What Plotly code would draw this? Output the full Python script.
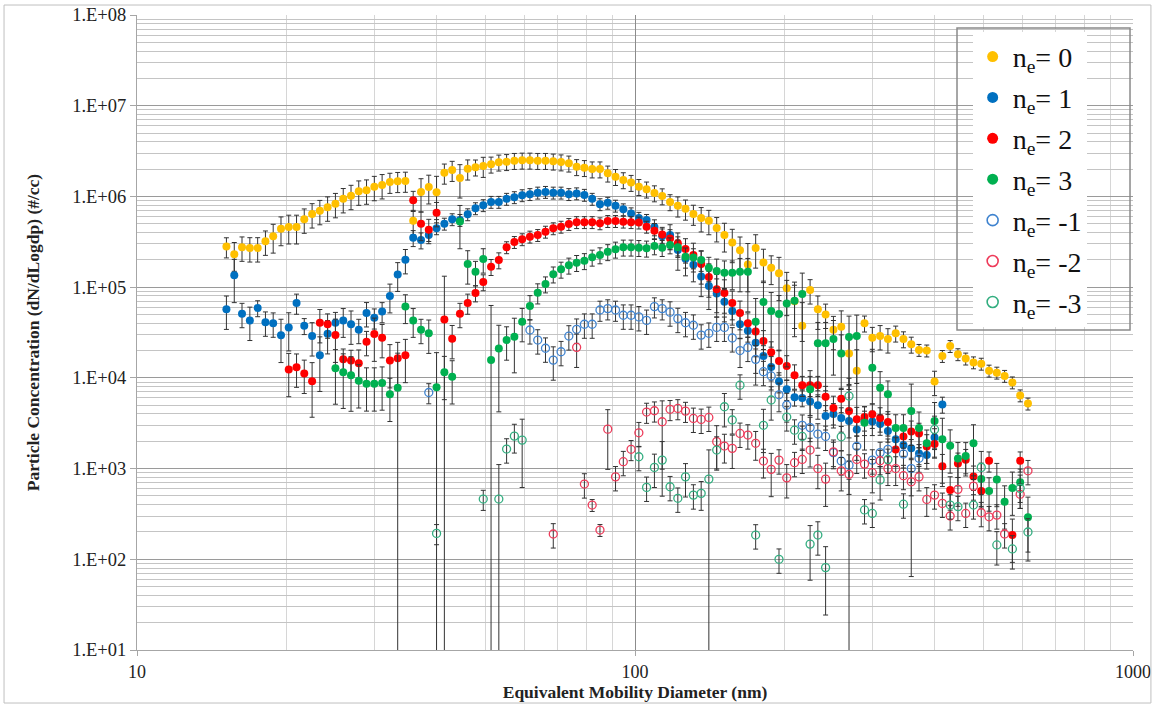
import plotly.graph_objects as go

# Mobility diameter bins (nm)
diam = [15.12, 15.68, 16.25, 16.85, 17.47, 18.11, 18.77, 19.46, 20.17, 20.91,
        21.67, 22.47, 23.29, 24.14, 25.03, 25.95, 26.90, 27.88, 28.90, 29.96,
        31.06, 32.20, 33.38, 34.59, 35.86, 37.18, 38.54, 39.95, 41.42, 42.94,
        44.51, 46.14, 47.83, 49.58, 51.40, 53.28, 55.23, 57.25, 59.35, 61.52,
        63.78, 66.11, 68.53, 71.04, 73.65, 76.35, 79.14, 82.04, 85.05, 88.16,
        91.39, 94.74, 98.21, 101.8, 105.5, 109.4, 113.4, 117.6, 121.9, 126.3,
        131.0, 135.8, 140.7, 145.9, 151.2, 156.8, 162.5, 168.5, 174.7, 181.1,
        187.7, 194.6, 201.7, 209.1, 216.7, 224.7, 232.9, 241.4, 250.3, 259.5,
        269.0, 278.8, 289.0, 299.6, 310.6, 322.0, 333.8, 346.0, 358.7, 371.8,
        385.4, 399.5, 414.2, 429.4, 445.1, 461.4, 478.3, 495.8, 514.0, 532.8,
        552.3, 572.5, 593.5, 615.3]

N = None

ne0 = [2.8e5, 2.3e5, 2.75e5, 2.7e5, 2.7e5, 3.2e5, 3.65e5, 4.4e5, 4.6e5, 4.6e5,
       5.6e5, 6.4e5, 6.95e5, 7.6e5, 8.3e5, 9.4e5, 1.02e6, 1.14e6, 1.17e6, 1.28e6,
       1.34e6, 1.44e6, 1.47e6, 1.48e6, 5.4e5, 1.12e6, 1.27e6, 1.11e6, 1.82e6, 1.95e6,
       1.6e6, 2.02e6, 2.1e6, 2.16e6, 2.26e6, 2.38e6, 2.41e6, 2.48e6, 2.5e6, 2.5e6,
       2.48e6, 2.48e6, 2.44e6, 2.39e6, 2.32e6, 2.12e6, 2.07e6, 2.0e6, 2.0e6, 1.8e6,
       1.65e6, 1.52e6, 1.42e6, 1.28e6, 1.2e6, 1.09e6, 1.01e6, 8.7e5, 7.9e5, 7.3e5,
       6.4e5, 5.8e5, 5.4e5, 4.5e5, 3.75e5, 3.1e5, 2.55e5, 1.78e5, 2.7e5, 1.87e5,
       1.64e5, 1.42e5, 9.7e4, 7.0e4, 3.75e4, 9.3e4, 5.7e4, 5.0e4, 3.4e4, 3.65e4,
       1.86e4, 1.2e4, 4.0e4, 2.77e4, 2.9e4, 2.68e4, 3.1e4, 2.68e4, 2.34e4, 2.03e4,
       2.0e4, 9.1e3, 1.74e4, 2.24e4, 1.82e4, 1.63e4, 1.48e4, 1.43e4, 1.2e4, 1.14e4,
       1.05e4, 8.9e3, 6.4e3, 5.2e3]
err0 = [.25, .35, .3, .3, .3, .3, .35, .35, .35, .35,
        .3, .3, .3, .3, .3, .3, .3, .3, .3, .3,
        .3, .25, .25, .25, .3, .4, .35, .5, .25, .25,
        .4, .25, .2, .25, .2, .2, .2, .2, .2, .2,
        .2, .2, .2, .2, .2, .2, .2, .2, .2, .2,
        .2, .2, .2, .2, .2, .2, .2, .2, .25, .25,
        .25, .3, .3, .3, .35, .4, .4, .7, .4, .4,
        .35, .5, .5, .5, .8, .3, .4, .3, .4, .5,
        .6, .7, .2, .3, .3, .3, .2, .2, .2, .15,
        .15, .3, .15, .15, .15, .15, .15, .15, .15, .15,
        .15, .15, .15, .15]

ne1 = [5.7e4, 1.35e5, 5.1e4, 4.3e4, 5.9e4, 4.1e4, 4.0e4, 2.95e4, 3.6e4, 6.7e4,
       3.75e4, 2.9e4, 1.77e4, 3.06e4, 4.05e4, 4.3e4, 3.9e4, 3.4e4, 5.2e4, 4.6e4,
       5.4e4, 8.0e4, 1.38e5, 2.0e5, 3.5e5, 3.3e5, 3.75e5, 4.45e5, 5.0e5, 5.6e5,
       5.5e5, 6.35e5, 7.4e5, 8.0e5, 8.7e5, 8.7e5, 9.4e5, 9.8e5, 1.03e6, 1.06e6,
       1.1e6, 1.12e6, 1.1e6, 1.1e6, 1.06e6, 1.08e6, 1.04e6, 9.4e5, 8.2e5, 8.5e5,
       7.9e5, 7.2e5, 6.5e5, 5.8e5, 5.5e5, 4.6e5, 3.65e5, 3.75e5, 2.56e5, 2.05e5,
       1.76e5, 1.31e5, 1.03e5, 8.5e4, 6.9e4, 5.45e4, 3.9e4, 3.3e4, 2.44e4, 1.74e4,
       1.32e4, 9.1e3, 7.5e3, 6.1e3, 6.0e3, 5.5e3, 5.0e3, 3.8e3, 4.0e3, 3.6e3,
       3.35e3, 2.7e3, 3.3e3, 3.3e3, 3.1e3, 2.6e3, 2.1e3, 1.82e3, 1.67e3, 1.47e3,
       1.41e3, 2.2e3, 5.1e3, N, N, N, N, N, N, N,
       N, N, N, N]
err1 = [.4, .5, .3, .4, .2, .3, .3, .5, .45, .25,
        .2, .4, .6, .4, .3, .35, .4, .3, .3, .25,
        .25, .35, .35, .3, .2, .2, .15, .15, .15, .15,
        .15, .15, .15, .15, .15, .15, .15, .15, .15, .15,
        .15, .15, .15, .15, .15, .15, .15, .15, .15, .15,
        .15, .15, .15, .15, .15, .2, .2, .3, .4, .35,
        .35, .4, .45, .45, .4, .3, .3, .25, .3, .3,
        .3, .25, .25, .2, .2, .3, .3, .3, .3, .3,
        .35, .3, .3, .3, .25, .25, .25, .25, .25, .25,
        .3, .25, .2, N, N, N, N, N, N, N,
        N, N, N, N]

ne2 = [N, N, N, N, N, N, N, N, 1.24e4, 1.31e4,
       1.12e4, 9.2e3, 4.05e4, 3.9e4, 2.96e4, 1.6e4, 1.55e4, 1.45e4, 2.5e4, 3.04e4,
       2.77e4, 1.55e4, 1.64e4, 1.77e4, 9.1e5, 5.0e5, 4.3e5, 6.6e5, 4.4e4, 2.7e4,
       5.1e4, 6.7e4, 8.6e4, 1.14e5, 1.68e5, 1.99e5, 2.75e5, 3.14e5, 3.37e5, 3.6e5,
       3.75e5, 4.08e5, 4.45e5, 4.63e5, 4.96e5, 5.2e5, 5.2e5, 5.2e5, 5.05e5, 5.35e5,
       5.35e5, 5.27e5, 5.2e5, 5.15e5, 4.63e5, 4.19e5, 3.8e5, 3.44e5, 3.04e5, 2.63e5,
       2.26e5, 1.8e5, 1.29e5, 9.5e4, 8.6e4, 6.7e4, 5.2e4, 4.0e4, 3.24e4, 2.55e4,
       1.92e4, 1.53e4, 1.35e4, 1.07e4, 8.3e3, 8.3e3, 8.3e3, 6.2e3, 4.65e3, 5.9e3,
       4.3e3, 3.5e3, 3.7e3, 3.96e3, 3.6e3, 3.26e3, 1.62e3, 2.26e3, 2.57e3, 2.43e3,
       1.75e3, 1.86e3, 1.06e3, 580, 1.14e3, 1.25e3, 820, 565, 1.22e3, N,
       N, 185, 1.22e3, N]
err2 = [N, N, N, N, N, N, N, N, .5, .4,
        .4, .6, .4, .3, .5, .3, .3, .4, .3, .5,
        .4, .5, .5, .5, .25, .35, .3, .3, 2.0, .4,
        .3, .25, .2, .2, .2, .2, .15, .15, .15, .15,
        .15, .15, .15, .15, .15, .15, .15, .15, .15, .15,
        .15, .15, .15, .15, .15, .2, .2, .25, .3, .3,
        .35, .4, .4, .45, .4, .35, .35, .3, .3, .3,
        .3, .3, .3, .3, .25, .25, .25, .3, .35, .3,
        1.3, .35, .3, .3, .3, .3, .35, .3, .3, .3,
        .35, .3, .35, .4, .3, .3, .3, .35, .25, N,
        N, .5, .25, N]

ne3 = [N, N, N, N, N, N, N, N, N, N,
       N, N, N, N, 1.28e4, 1.15e4, 1.07e4, 9.3e3, 8.6e3, 8.6e3,
       8.8e3, 6.6e3, 7.8e3, 6.1e4, 4.3e4, 3.4e4, 3.1e4, 7.9e3, 1.15e4, 1.03e4,
       5.3e5, 1.8e5, 1.48e5, 2.04e5, 1.57e4, 2.11e4, 2.61e4, 2.84e4, 4.16e4, 6.2e4,
       8.7e4, 1.08e5, 1.39e5, 1.57e5, 1.74e5, 1.86e5, 1.95e5, 2.13e5, 2.26e5, 2.45e5,
       2.61e5, 2.75e5, 2.75e5, 2.72e5, 2.68e5, 2.84e5, 2.72e5, 2.91e5, 2.76e5, 2.16e5,
       2.12e5, 1.99e5, 1.64e5, 1.51e5, 1.44e5, 1.44e5, 1.48e5, 1.48e5, 4.16e4, 6.85e4,
       5.45e4, 5.05e4, 6.6e4, 7.1e4, 8.4e4, 7.5e3, 2.4e4, 2.4e4, 2.68e4, 1.86e4,
       2.82e4, 2.89e4, 3.2e3, 1.29e4, 7.8e3, 6.6e3, 2.8e3, 2.8e3, 4.3e3, 2.8e3,
       1.9e3, 3.34e3, 2.11e3, 1.78e3, 1.29e3, 1.38e3, 1.9e3, 765, 565, 760,
       430, 610, 705, 290]
err3 = [N, N, N, N, N, N, N, N, N, N,
        N, N, N, N, .6, .6, .6, .5, .5, .5,
        .5, .5, 1.4, .35, .35, .3, .4, 1.4, .5, .5,
        .5, .4, .3, .3, 3.0, .8, .4, .6, .4, .3,
        .25, .2, .2, .2, .2, .2, .2, .2, .2, .2,
        .2, .2, .2, .2, .2, .2, .2, .2, .2, .25,
        .25, .25, .3, .35, .35, .35, .4, .4, .8, .7,
        .6, .6, .8, .6, .7, .6, .7, .7, .6, .6,
        .7, .7, .5, .6, .5, .4, .4, .4, .985, .5,
        .4, .6, .7, .5, .5, .4, .6, .5, .4, .5,
        .5, .5, .4, .67]

ne_m1 = [N, N, N, N, N, N, N, N, N, N,
         N, N, N, N, N, N, N, N, N, N,
         N, N, N, N, N, N, 6.9e3, N, N, N,
         N, N, N, N, N, N, N, N, N, 3.37e4,
         2.61e4, 2.12e4, 1.57e4, 1.94e4, 2.89e4, 3.43e4, 3.9e4, 3.9e4, 5.6e4, 5.8e4,
         5.6e4, 4.9e4, 4.9e4, 4.7e4, 4.3e4, 6.1e4, 5.8e4, 5.3e4, 4.5e4, 4.05e4,
         3.8e4, 2.96e4, 3.1e4, 3.6e4, 3.6e4, 2.75e4, 2.0e4, 2.16e4, 1.6e4, 1.17e4,
         1.05e4, 6.5e3, 5.0e3, N, 3.0e3, 2.83e3, 2.4e3, 2.26e3, 1.5e3, 1.21e3,
         1.09e3, 1.76e3, N, 1.24e3, 1.5e3, 1.63e3, N, 1.45e3, 1.0e3, 1.3e3,
         N, N, N, N, N, N, N, N, N, N,
         N, N, N, N]
err_m1 = [N, N, N, N, N, N, N, N, N, N,
          N, N, N, N, N, N, N, N, N, N,
          N, N, N, N, N, N, .25, N, N, N,
          N, N, N, N, N, N, N, N, N, .3,
          .3, .3, .4, .3, .3, .3, .3, .3, .25, .25,
          .25, .3, .3, .3, .3, .25, .25, .3, .3, .3,
          .3, .3, .3, .3, .3, .3, .35, .3, .3, .3,
          .3, .35, .35, N, .3, .3, .3, .3, .3, .3,
          .3, .3, N, .3, .3, .3, N, .3, .3, .3,
          N, N, N, N, N, N, N, N, N, N,
          N, N, N, N]

ne_m2 = [N, N, N, N, N, N, N, N, N, N,
         N, N, N, N, N, N, N, N, N, N,
         N, N, N, N, N, N, N, N, N, N,
         N, N, N, N, N, N, N, N, N, N,
         N, N, 190, N, N, 2.17e4, 675, 396, 210, 2.72e3,
         810, 1.19e3, 1.63e3, 2.48e3, 4.2e3, 4.34e3, 3.28e3, 4.5e3, 4.6e3, 4.3e3,
         3.57e3, 3.48e3, 3.66e3, 1.98e3, 1.77e3, 1.67e3, 2.44e3, 2.34e3, 1.9e3, 1.21e3,
         980, 1.24e3, 790, 1.16e3, 1.26e3, 1.6e3, 1.0e3, 765, 1.53e3, 945,
         865, 1.26e3, 1.12e3, 900, 1.22e3, 1.0e3, 1.0e3, 835, 715, 810,
         457, 510, 413, 300, 590, 320, 640, 326, 294, 307,
         190, N, 520, 945]
err_m2 = [N, N, N, N, N, N, N, N, N, N,
          N, N, N, N, N, N, N, N, N, N,
          N, N, N, N, N, N, N, N, N, N,
          N, N, N, N, N, N, N, N, N, N,
          N, N, .3, N, N, .4, .3, .15, .15, .64,
          .3, .3, .25, .3, .25, .25, .7, .25, .25, .25,
          .3, .3, .3, .5, .35, .4, .3, .3, .35, .35,
          .5, .3, .4, .3, .3, .35, .4, .5, .35, .4,
          .4, .3, .3, .4, .3, .35, .35, .3, .3, .3,
          .35, .3, .3, .3, .35, .3, .3, .3, .3, .3,
          .3, N, .3, .3]

ne_m3 = [N, N, N, N, N, N, N, N, N, N,
         N, N, N, N, N, N, N, N, N, N,
         N, N, N, N, N, N, N, 193, N, N,
         N, N, N, 461, N, 461, 1.64e3, 2.28e3, 2.06e3, N,
         N, N, N, N, N, N, N, N, N, N,
         N, N, N, 1.35e3, 620, 1.03e3, 1.24e3, 630, 470, 810,
         510, 533, 765, 1.6e3, 4.8e3, 3.43e3, 8.3e3, N, 185, 3.0e3,
         5.7e3, 100, 3.7e3, 2.65e3, 2.26e3, 147, 185, 81, N, 2.24e3,
         6.3e3, N, 350, 320, 750, 1.26e3, N, 405, N, N,
         N, 2.7e3, N, 396, 380, N, 396, 1.03e3, N, 144,
         N, 130, 605, 200]
err_m3 = [N, N, N, N, N, N, N, N, N, N,
          N, N, N, N, N, N, N, N, N, N,
          N, N, N, N, N, N, N, .25, N, N,
          N, N, N, .25, N, 1.4, .3, .35, .7, N,
          N, N, N, N, N, N, N, N, N, N,
          N, N, N, .3, .3, .4, .6, .3, .3, .4,
          .3, .35, 1.1, .4, .4, .3, .3, N, .3, .5,
          .4, .3, .3, .3, .3, .6, .4, .7, N, .3,
          .3, N, .3, .3, .4, .3, N, .3, N, N,
          N, .4, N, .3, .3, N, .3, .5, N, .4,
          N, .4, .4, .4]

series = [
    ("n<sub>e</sub>= 0", ne0, err0, "#FFC000", False),
    ("n<sub>e</sub>= 1", ne1, err1, "#0070C0", False),
    ("n<sub>e</sub>= 2", ne2, err2, "#FF0000", False),
    ("n<sub>e</sub>= 3", ne3, err3, "#00B050", False),
    ("n<sub>e</sub>= -1", ne_m1, err_m1, "#3F83CF", True),
    ("n<sub>e</sub>= -2", ne_m2, err_m2, "#EE3B5A", True),
    ("n<sub>e</sub>= -3", ne_m3, err_m3, "#33AE80", True),
]

FONT = "Liberation Serif, Times New Roman, serif"
fig = go.Figure()

for k, (name, vals, fr, col, hollow) in enumerate(series):
    err = [v * f if (v is not None and f is not None) else None for v, f in zip(vals, fr)]
    marker = (dict(symbol="circle-open", size=8, color=col, line=dict(width=1.3, color=col))
              if hollow else dict(symbol="circle", size=8, color=col, line=dict(width=0)))
    fig.add_trace(go.Scatter(
        x=diam, y=vals, mode="markers", marker=marker, showlegend=False,
        error_y=dict(type="data", array=err, visible=True, color="#333333", thickness=1, width=2.5),
    ))

# legend entries
for k, (name, vals, fr, col, hollow) in enumerate(series):
    marker = (dict(symbol="circle-open", size=11, color=col, line=dict(width=1.6, color=col))
              if hollow else dict(symbol="circle", size=11, color=col, line=dict(width=0)))
    fig.add_trace(go.Scatter(x=[None], y=[None], mode="markers", marker=marker,
                             name=name, legendgroup=f"g{k}", showlegend=True))

ytv = [1e1, 1e2, 1e3, 1e4, 1e5, 1e6, 1e7, 1e8]
ytt = ["1.E+01", "1.E+02", "1.E+03", "1.E+04", "1.E+05", "1.E+06", "1.E+07", "1.E+08"]

fig.update_layout(
    width=1162, height=712,
    margin=dict(l=137, r=29, t=15, b=62),
    paper_bgcolor="white", plot_bgcolor="white",
    font=dict(family=FONT, color="#222222"),
    showlegend=True,
    legend=dict(x=0.839, y=0.9735, xanchor="left", yanchor="top",
                font=dict(family=FONT, size=28, color="#111111"),
                bgcolor="rgba(255,255,255,1)", borderwidth=0,
                tracegroupgap=1.5, itemclick=False),
    xaxis=dict(type="log", range=[1, 3], tickvals=[10, 100, 1000], ticktext=["10", "100", "1000"],
               automargin=False,
               showgrid=True, gridcolor="#8C8C8C", gridwidth=1,
               minor=dict(dtick="D1", showgrid=True, gridcolor="#D6D6D6", ticks=""),
               showline=True, linecolor="#A6A6A6", linewidth=1,
               ticks="outside", ticklen=5, tickcolor="#A6A6A6",
               tickfont=dict(family=FONT, size=18, color="#222222"),
               title=dict(text="<b>Equivalent Mobility Diameter (nm)</b>",
                          font=dict(family=FONT, size=17.5, color="#222222"), standoff=4),
               zeroline=False),
    yaxis=dict(type="log", range=[1, 8], tickvals=ytv, ticktext=ytt,
               automargin=False,
               showgrid=True, gridcolor="#9A9A9A", gridwidth=1,
               minor=dict(dtick="D1", showgrid=True, gridcolor="#C4C4C4", ticks=""),
               showline=True, linecolor="#A6A6A6", linewidth=1,
               ticks="outside", ticklen=6, tickcolor="#A6A6A6",
               tickfont=dict(family=FONT, size=18.5, color="#222222"),
               title=dict(text="<b>Particle Concentration (dN/dLogdp) (#/cc)</b>",
                          font=dict(family=FONT, size=17.5, color="#222222"), standoff=28),
               zeroline=False),
    shapes=[
        dict(type="rect", xref="paper", yref="paper", x0=0.8233, x1=0.997, y0=0.504, y1=0.9795,
             line=dict(color="#8A8A8A", width=1.5), fillcolor="rgba(0,0,0,0)", layer="above"),
        dict(type="rect", xref="paper", yref="paper", x0=-0.1335, x1=1.018, y0=-0.0835, y1=1.0157,
             line=dict(color="#BFBFBF", width=1), fillcolor="rgba(0,0,0,0)", layer="above"),
    ],
)

fig.write_html("out.html")
